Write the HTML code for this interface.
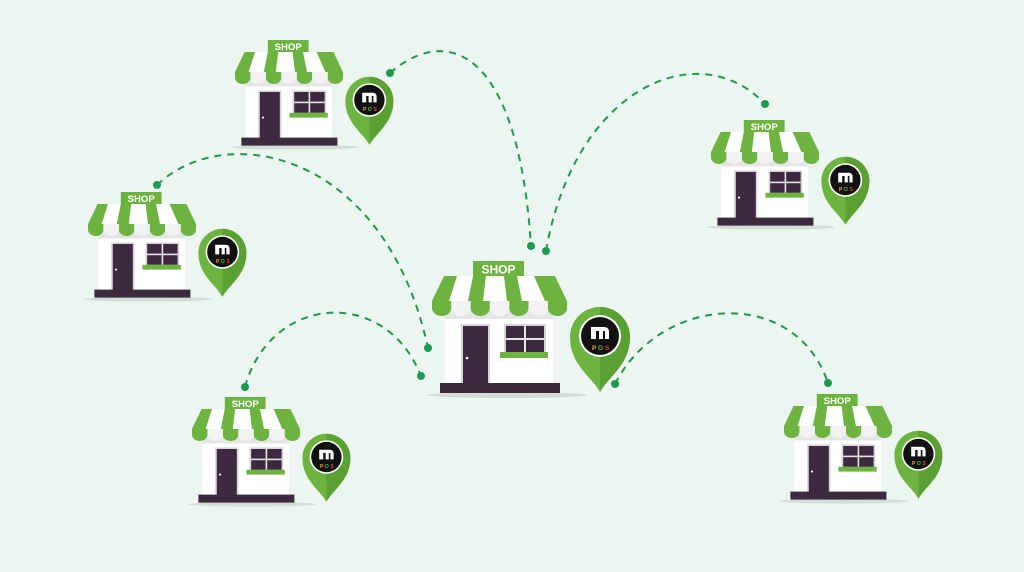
<!DOCTYPE html>
<html><head><meta charset="utf-8"><style>
html,body{margin:0;padding:0;background:#edf5f0;}
svg{display:block;}
</style></head><body>
<svg width="1024" height="572" viewBox="0 0 1024 572" xmlns="http://www.w3.org/2000/svg">
<defs>
<g id="shop">
  <ellipse cx="75" cy="134" rx="80" ry="3" fill="#d3dcd6"/>
  <rect x="13" y="50" width="108" height="74" fill="#ffffff"/>
  <rect x="13" y="50" width="108" height="8" fill="#e3e6e4"/>
  <path d="M12,15 H123 L135,40 H0 Z" fill="#ffffff"/>
  <path d="M12,15 H25 L17,40 H0 Z" fill="#6db33f"/>
  <path d="M41,15 H54 L51,40 H36 Z" fill="#6db33f"/>
  <path d="M72,15 H85 L90,40 H75 Z" fill="#6db33f"/>
  <path d="M102,15 H123 L135,40 H113 Z" fill="#6db33f"/>
  <rect x="0" y="40" width="135" height="8" fill="#e8eae9"/>
  <path d="M0,40 h19.3 v7 a9.65,8 0 0 1 -19.3,0 Z" fill="#6db33f"/>
  <path d="M38.6,40 h19.3 v7 a9.65,8 0 0 1 -19.3,0 Z" fill="#6db33f"/>
  <path d="M77.2,40 h19.3 v7 a9.65,8 0 0 1 -19.3,0 Z" fill="#6db33f"/>
  <path d="M115.8,40 h19.3 v7 a9.65,8 0 0 1 -19.3,0 Z" fill="#6db33f"/>
  <path d="M19.3,40 h19.3 v7 a9.65,8 0 0 1 -19.3,0 Z" fill="#f2f2f2"/>
  <path d="M57.9,40 h19.3 v7 a9.65,8 0 0 1 -19.3,0 Z" fill="#f2f2f2"/>
  <path d="M96.5,40 h19.3 v7 a9.65,8 0 0 1 -19.3,0 Z" fill="#f2f2f2"/>
  <rect x="41" y="0" width="51" height="15" fill="#6db33f"/>
  <text x="66.5" y="12.5" text-anchor="middle" font-family="Liberation Sans, sans-serif" font-size="12" font-weight="bold" fill="#fff">SHOP</text>
  <rect x="29" y="63" width="29" height="60" fill="#d5d5d5"/>
  <rect x="31" y="65" width="25" height="58" fill="#3d2a40"/>
  <circle cx="35" cy="97" r="1.3" fill="#fff"/>
  <rect x="72" y="63" width="42" height="30" fill="#d5d5d5"/>
  <rect x="74" y="65" width="38" height="26" fill="#3d2a40"/>
  <rect x="92" y="65" width="2" height="26" fill="#e5e5e5"/>
  <rect x="74" y="77" width="38" height="2" fill="#e5e5e5"/>
  <rect x="68" y="91" width="48" height="6" fill="#6db33f"/>
  <rect x="8" y="122" width="120" height="10" fill="#3b2b3d"/>
  <path d="M168,131 C160,116 138,104 138,76 A30,30 0 0 1 198,76 C198,104 176,116 168,131 Z" fill="#6db33f"/>
  <path d="M168,131 C176,116 198,104 198,76 A30,30 0 0 0 168,46 Z" fill="#5aa032"/>
  <circle cx="168" cy="75" r="21" fill="#fff"/>
  <circle cx="168" cy="75" r="19" fill="#111"/>
  <path d="M159,78 V66 H172 Q177,66 177,71 V78 H173 V70 H171 V78 H167 V70 H164 V78 Z" fill="#fff"/>
  <text x="160" y="89" font-family="Liberation Sans, sans-serif" font-size="6.5" font-weight="bold" fill="#f6a21b">P</text>
  <text x="166" y="89" font-family="Liberation Sans, sans-serif" font-size="6.5" font-weight="bold" fill="#5ab848">O</text>
  <text x="173" y="89" font-family="Liberation Sans, sans-serif" font-size="6.5" font-weight="bold" fill="#e0402c">S</text>
</g>
</defs>
<g fill="none" stroke="#1e9a50" stroke-width="2" stroke-dasharray="7,6">
  <path d="M390,73 C445,25 518,45 531,246"/>
  <path d="M546,251 C575,85 700,35 765,104"/>
  <path d="M157,185 C225,120 385,150 428,348"/>
  <path d="M245,387 C270,295 385,285 421,376"/>
  <path d="M615,384 C660,295 795,285 828,383"/>
</g>
<g fill="#1e9a50">
  <circle cx="390" cy="73" r="4"/><circle cx="531" cy="246" r="4"/>
  <circle cx="546" cy="251" r="4"/><circle cx="765" cy="104" r="4"/>
  <circle cx="157" cy="185" r="4"/><circle cx="428" cy="348" r="4"/>
  <circle cx="245" cy="387" r="4"/><circle cx="421" cy="376" r="4"/>
  <circle cx="615" cy="384" r="4"/><circle cx="828" cy="383" r="4"/>
</g>
<use href="#shop" transform="translate(432,261)"/>
<use href="#shop" transform="translate(235,40) scale(0.8)"/>
<use href="#shop" transform="translate(711,120) scale(0.8)"/>
<use href="#shop" transform="translate(88,192) scale(0.8)"/>
<use href="#shop" transform="translate(192,397) scale(0.8)"/>
<use href="#shop" transform="translate(784,394) scale(0.8)"/>
</svg>
</body></html>
